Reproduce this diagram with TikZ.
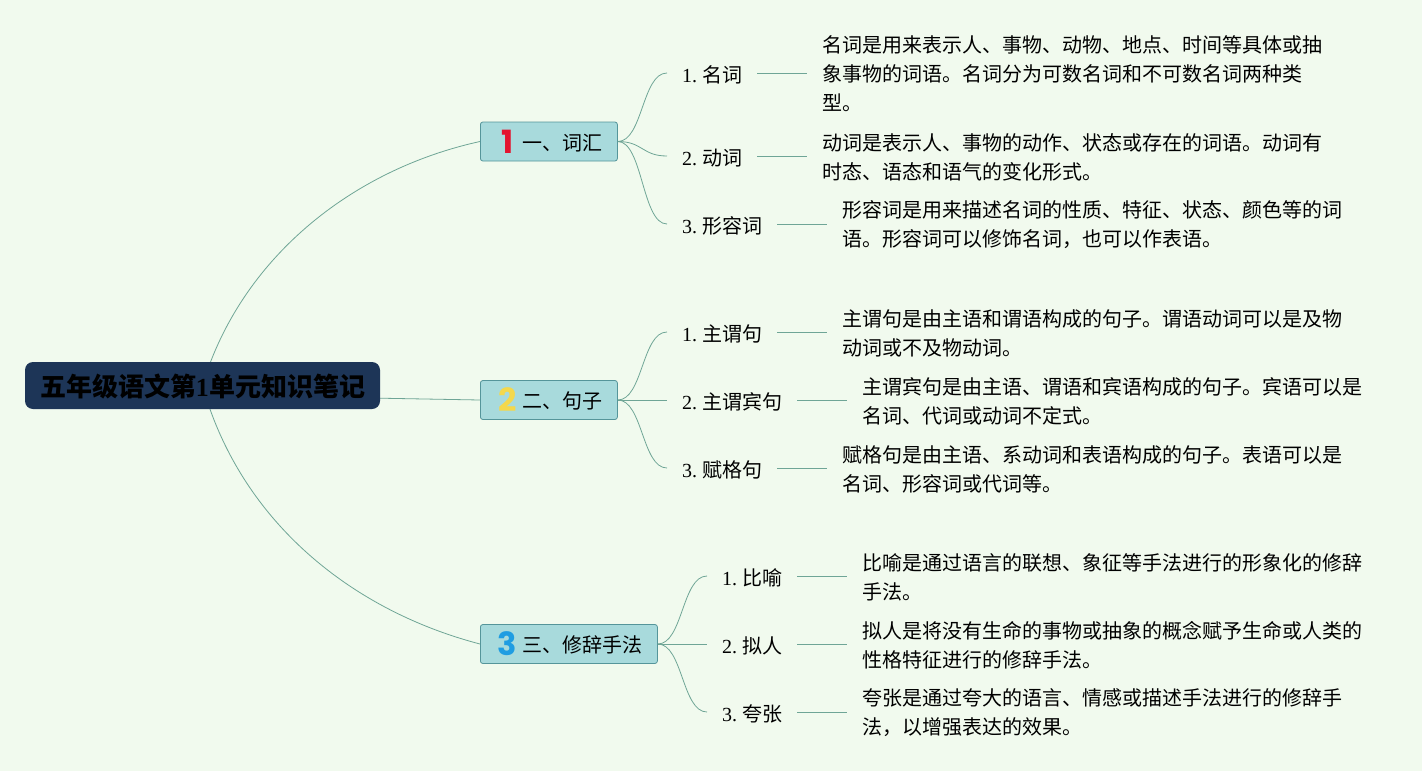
\documentclass[tikz,border=0pt]{standalone}
\usepackage{fontspec}
\setmainfont{Liberation Serif}
\newfontfamily\cjk{Noto Sans CJK SC}
\newfontfamily\iconfont{Poppins}
\usetikzlibrary{positioning,backgrounds}
\definecolor{paper}{HTML}{F1FAEE}
\definecolor{rootfill}{HTML}{1D3557}
\definecolor{topicfill}{HTML}{A8DADC}
\definecolor{topicedge}{HTML}{55959A}
\definecolor{branch}{HTML}{6FA596}
\definecolor{iconred}{HTML}{E3142F}
\definecolor{iconyellow}{HTML}{F4D84B}
\definecolor{iconblue}{HTML}{1F9DE2}
\newcommand{\topicicon}[2]{\makebox[24pt][c]{\iconfont\bfseries\fontsize{32}{32}\selectfont\color{#1}\raisebox{-3pt}{#2}}\hspace{3pt}}
\frenchspacing
\tikzset{
root/.style = {fill=rootfill, rounded corners=8pt, minimum width=355pt, minimum height=47pt, inner sep=0pt, text height=25pt, text depth=3pt, font=\fontsize{26}{30}\selectfont\bfseries},
topic/.style = {draw=topicedge, line width=0.8pt, fill=topicfill, rounded corners=2.5pt, minimum height=39pt, inner xsep=15pt, inner ysep=0pt, anchor=west, font=\cjk\fontsize{20}{24}\selectfont},
subtopic/.style = {anchor=west, inner xsep=15pt, inner ysep=0pt, text height=20pt, text depth=2pt, font=\fontsize{20}{24}\selectfont},
detail/.style = {inner xsep=15pt, inner ysep=0pt, yshift=-1pt, align=left, font=\cjk\fontsize{20}{29}\selectfont},
link/.style = {draw=branch, line width=0.8pt},
branchto/.style = {to path={.. controls +(25,0) and +(-25,0) .. (\tikztotarget)}}
}

\begin{document}
\begin{tikzpicture}[x=1pt, y=-1pt, node distance=50pt]
    \node [root] (root) at (202.5,385.5) {{\cjk 五年级语文第}1{\cjk 单元知识笔记}};
    \coordinate [above=11pt of root.south east] (rootout);
    \node [topic] (topic1) at (480,141.5) {\topicicon{iconred}{1}一、词汇};
    \node [topic] (topic2) at (480,400) {\topicicon{iconyellow}{2}二、句子};
    \node [topic] (topic3) at (480,644) {\topicicon{iconblue}{3}三、修辞手法};
    \node [subtopic] (noun) at (667,73) {1. {\cjk 名词}};
    \node [subtopic] (verb) at (667,156) {2. {\cjk 动词}};
    \node [subtopic] (adj) at (667,224) {3. {\cjk 形容词}};
    \node [subtopic] (sv) at (667,332) {1. {\cjk 主谓句}};
    \node [subtopic] (svo) at (667,400) {2. {\cjk 主谓宾句}};
    \node [subtopic] (svc) at (667,468) {3. {\cjk 赋格句}};
    \node [subtopic] (simile) at (707,576) {1. {\cjk 比喻}};
    \node [subtopic] (person) at (707,644) {2. {\cjk 拟人}};
    \node [subtopic] (hyper) at (707,712) {3. {\cjk 夸张}};
    \node [detail, right=of noun] (noundef) {名词是用来表示人、事物、动物、地点、时间等具体或抽\\象事物的词语。名词分为可数名词和不可数名词两种类\\型。};
    \node [detail, right=of verb] (verbdef) {动词是表示人、事物的动作、状态或存在的词语。动词有\\时态、语态和语气的变化形式。};
    \node [detail, right=of adj] (adjdef) {形容词是用来描述名词的性质、特征、状态、颜色等的词\\语。形容词可以修饰名词，也可以作表语。};
    \node [detail, right=of sv] (svdef) {主谓句是由主语和谓语构成的句子。谓语动词可以是及物\\动词或不及物动词。};
    \node [detail, right=of svo] (svodef) {主谓宾句是由主语、谓语和宾语构成的句子。宾语可以是\\名词、代词或动词不定式。};
    \node [detail, right=of svc] (svcdef) {赋格句是由主语、系动词和表语构成的句子。表语可以是\\名词、形容词或代词等。};
    \node [detail, right=of simile] (similedef) {比喻是通过语言的联想、象征等手法进行的形象化的修辞\\手法。};
    \node [detail, right=of person] (persondef) {拟人是将没有生命的事物或抽象的概念赋予生命或人类的\\性格特征进行的修辞手法。};
    \node [detail, right=of hyper] (hyperdef) {夸张是通过夸大的语言、情感或描述手法进行的修辞手\\法，以增强表达的效果。};
    \begin{scope}[on background layer]
    \fill [paper] (0,0) rectangle (1422,771);
    \draw [link] (root.center) .. controls (240,260) and (350,170) .. (topic1.west);
    \draw [link] (rootout) -- (topic2.west);
    \draw [link] (root.center) .. controls (240,520) and (350,610) .. (topic3.west);
    \end{scope}
    \draw [link] (topic1.east) to[branchto] (noun.west);
    \draw [link] (topic1.east) to[branchto] (verb.west);
    \draw [link] (topic1.east) to[branchto] (adj.west);
    \draw [link] (topic2.east) to[branchto] (sv.west);
    \draw [link] (topic2.east) -- (svo.west);
    \draw [link] (topic2.east) to[branchto] (svc.west);
    \draw [link] (topic3.east) to[branchto] (simile.west);
    \draw [link] (topic3.east) -- (person.west);
    \draw [link] (topic3.east) to[branchto] (hyper.west);
    \draw [link] (noun) -- (noun -| noundef.west);
    \draw [link] (verb) -- (verb -| verbdef.west);
    \draw [link] (adj) -- (adj -| adjdef.west);
    \draw [link] (sv) -- (sv -| svdef.west);
    \draw [link] (svo) -- (svo -| svodef.west);
    \draw [link] (svc) -- (svc -| svcdef.west);
    \draw [link] (simile) -- (simile -| similedef.west);
    \draw [link] (person) -- (person -| persondef.west);
    \draw [link] (hyper) -- (hyper -| hyperdef.west);
\end{tikzpicture}
\end{document}
